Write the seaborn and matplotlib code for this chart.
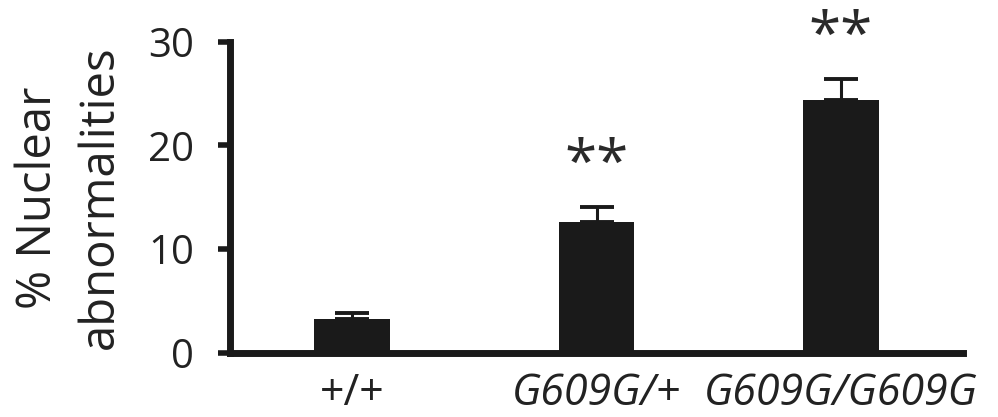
import matplotlib
matplotlib.use("Agg")
import matplotlib.pyplot as plt
import seaborn as sns
import pandas as pd

genotypes = ["+/+", "G609G/+", "G609G/G609G"]
means = [3.3, 12.65, 24.4]
sems = [0.6, 1.45, 2.0]
stars = ["", "**", "**"]
yticks = [0, 10, 20, 30]

sns.set_theme(style="white")
plt.rcParams["font.family"] = ["Open Sans", "DejaVu Sans"]

df = pd.DataFrame({"genotype": genotypes, "pct": means})

fig = plt.figure(figsize=(9.98, 4.17), dpi=100)
ax = fig.add_axes([0.2305, 0.1535, 0.7345, 0.7465])

sns.barplot(data=df, x="genotype", y="pct", color="#1a1a1a", saturation=1,
            width=0.31, errorbar=None, ax=ax, edgecolor="#1a1a1a", linewidth=0)
ax.errorbar(range(len(genotypes)), means, yerr=[[0] * len(sems), sems],
            fmt="none", ecolor="#1a1a1a", elinewidth=2.2, capsize=12,
            capthick=2.8, zorder=1)

for i, (m, s, st) in enumerate(zip(means, sems, stars)):
    if st:
        ax.text(i, m + s + 3.9, st, ha="center", va="center", fontsize=42,
                color="#2a2a2a", clip_on=False)

ax.set_xlim(-0.5, 2.5)
ax.set_ylim(0, 30)
ax.set_yticks(yticks)
ax.set_yticklabels([str(t) for t in yticks], fontsize=29, color="#222222")
ax.set_xticklabels(genotypes, fontsize=31, color="#222222")
for lbl in ax.get_xticklabels()[1:]:
    lbl.set_style("italic")
ax.set_xlabel("")
ax.set_ylabel("% Nuclear\nabnormalities", fontsize=34, color="#222222",
              linespacing=1.4, labelpad=17)

for side in ["top", "right"]:
    ax.spines[side].set_visible(False)
for side in ["left", "bottom"]:
    ax.spines[side].set_linewidth(5)
    ax.spines[side].set_color("#1a1a1a")
ax.tick_params(axis="y", direction="out", length=9, width=4, color="#1a1a1a",
               pad=17, left=True)
ax.tick_params(axis="x", length=0, pad=13)

fig.savefig("out.png", dpi=100)
